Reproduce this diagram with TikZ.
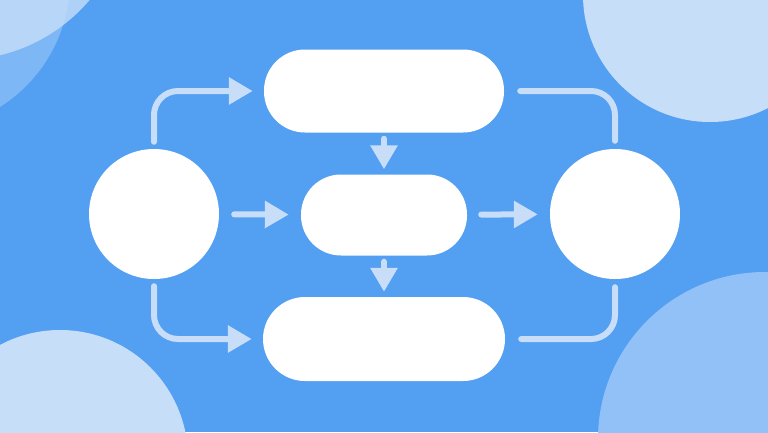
\documentclass[tikz,border=0pt]{standalone}
\usepackage{xcolor}
\usepackage{tikz}
\usetikzlibrary{arrows.meta}
\definecolor{bgblue}{RGB}{83,159,242}
\definecolor{paleblue}{RGB}{199,222,249}
\definecolor{midblue}{RGB}{146,193,248}
\definecolor{linkblue}{RGB}{200,222,248}

\begin{document}
\begin{tikzpicture}[x=1pt,y=-1pt,
  blob/.style={fill=white,draw=none,inner sep=0pt},
  flow/.style={draw=linkblue,line width=6pt,line cap=round,-{Triangle[width=26pt,length=24pt]}},
  link/.style={draw=linkblue,line width=6pt,line cap=round},
  elbow/.style={rounded corners=24pt}]
\useasboundingbox (0,0) rectangle (768,432);
\begin{scope}
\clip (0,0) rectangle (768,432);
\fill[bgblue] (0,0) rectangle (768,432);
%\draw (0,0) grid[step=48] (768,432);
\fill[white,opacity=0.25] (-80,-20) circle[radius=150pt];
\fill[paleblue,opacity=0.8] (-40,-110) circle[radius=170pt];
\fill[paleblue] (710,-5) circle[radius=127pt];
\fill[paleblue] (60,458) circle[radius=128pt];
\fill[midblue] (765,439) circle[radius=167pt];
\end{scope}

\node[blob,circle,minimum size=130pt] (src) at (154,214) {};
\node[blob,circle,minimum size=130pt] (sink) at (615,214) {};
\node[blob,rounded corners=41pt,minimum width=240pt,minimum height=83pt] (upper) at (384,91) {};
\node[blob,rounded corners=40pt,minimum width=166pt,minimum height=81pt] (core) at (384,215) {};
\node[blob,rounded corners=42pt,minimum width=242pt,minimum height=84pt] (lower) at (384,339) {};

\draw[flow,shorten <=6pt,shorten >=5pt] (upper) -- (core);
\draw[flow,shorten <=6pt,shorten >=5pt] (core) -- (lower);
\draw[flow,shorten <=15pt,shorten >=12pt] (src) -- (core);
\draw[flow,shorten <=14pt,shorten >=12pt] (core) -- (sink);
\draw[flow,elbow,shorten <=7pt,shorten >=11pt] (src.north) |- (upper.west);
\draw[flow,elbow,shorten <=7pt,shorten >=11pt] (src.south) |- (lower.west);
\draw[link,elbow,shorten <=16pt,shorten >=8pt] (upper.east) -| (sink.north);
\draw[link,elbow,shorten <=16pt,shorten >=8pt] (lower.east) -| (sink.south);
\end{tikzpicture}
\end{document}
